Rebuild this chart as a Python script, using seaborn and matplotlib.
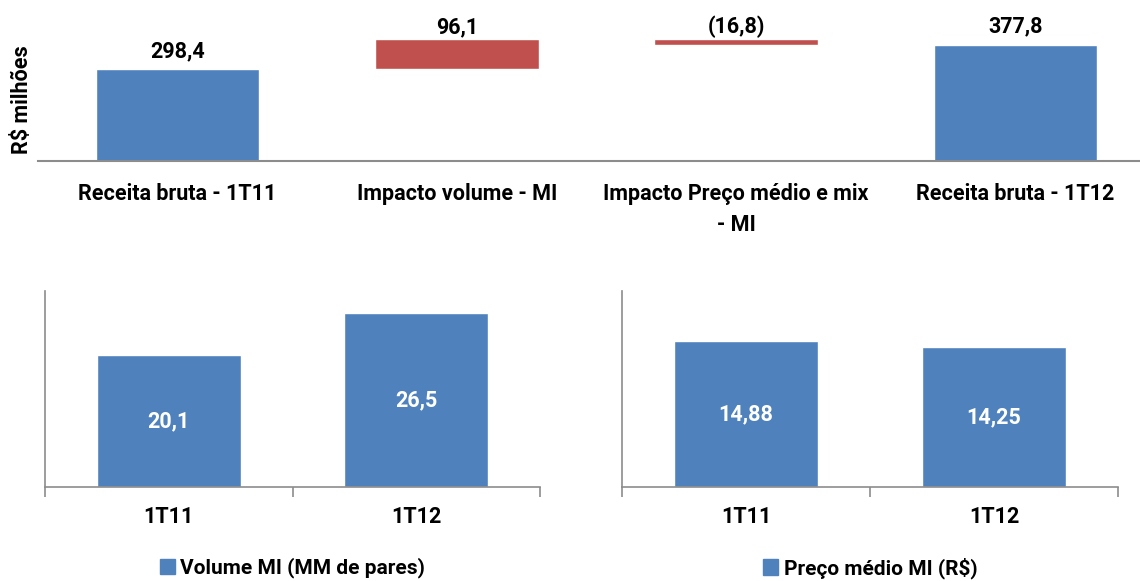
import matplotlib
matplotlib.use("Agg")
import pandas as pd
import seaborn as sns
import matplotlib.pyplot as plt
from matplotlib.patches import Patch

# bridge chart (R$ milhões)
bridge_labels = ["Receita bruta - 1T11", "Impacto volume - MI",
                 "Impacto Preço médio e mix\n- MI", "Receita bruta - 1T12"]
bridge_values = [298.4, 96.1, -16.8, 377.8]
bridge_text = ["298,4", "96,1", "(16,8)", "377,8"]
bridge_kind = ["total", "delta", "delta", "total"]

# volume and price
periods = ["1T11", "1T12"]
volume_mi = [20.1, 26.5]
volume_text = ["20,1", "26,5"]
preco_mi = [14.88, 14.25]
preco_text = ["14,88", "14,25"]

BLUE = "#4F81BD"
RED = "#C0504D"
GRAY = "#8C8C8C"

sns.set_style("white")
plt.rcParams['font.family'] = ['Roboto', 'DejaVu Sans']
plt.rcParams['text.color'] = 'black'
plt.rcParams['xtick.color'] = 'black'

fig = plt.figure(figsize=(11.4, 5.81), dpi=100)
W, H = 1140, 581
FS = 15.5


def px_axes(x0, y0, x1, y1):
    return fig.add_axes([x0 / W, 1 - y1 / H, (x1 - x0) / W, (y1 - y0) / H])


# ---- top waterfall ----
ax = px_axes(38, 15, 1140, 161)
bottoms, heights, colors = [], [], []
running = 0
for v, k in zip(bridge_values, bridge_kind):
    if k == "total":
        bottoms.append(0)
        heights.append(v)
        running = v
        colors.append(BLUE)
    else:
        bottoms.append(running + min(v, 0))
        heights.append(abs(v))
        running += v
        colors.append(RED)
x = range(len(bridge_values))
ax.bar(x, heights, bottom=bottoms, width=0.585, color=colors)
for i, (b, h, t, k) in enumerate(zip(bottoms, heights, bridge_text, bridge_kind)):
    off = 5 if k == "total" else 1
    ax.annotate(t, (i, b + h), xytext=(0, off), textcoords="offset points",
                ha="center", va="bottom", fontsize=FS, fontweight="bold")
ax.set_xlim(-0.5, 3.5 - 15 / 279)
ax.set_ylim(0, 474)
ax.set_xticks(list(x))
ax.set_xticklabels(bridge_labels, fontsize=FS, fontweight="bold",
                   linespacing=1.5)
ax.tick_params(axis="x", length=0, pad=16)
ax.set_yticks([])
for s in ["top", "right", "left"]:
    ax.spines[s].set_visible(False)
ax.spines["bottom"].set_color(GRAY)
ax.spines["bottom"].set_linewidth(1.5)
fig.text(22 / W, 1 - 100 / H, "R$ milhões", rotation=90, ha="center", va="center",
         fontsize=15.5, fontweight="bold")


def small_chart(box, vals, texts, ymax, legend_label):
    a = px_axes(*box)
    df = pd.DataFrame({"periodo": periods, "valor": vals})
    sns.barplot(data=df, x="periodo", y="valor", color=BLUE, saturation=1,
                width=0.58, ax=a)
    for i, (v, t) in enumerate(zip(vals, texts)):
        a.text(i, v / 2, t, ha="center", va="center", color="white",
               fontsize=FS, fontweight="bold")
    a.set_xlim(-0.5, 1.5)
    a.set_ylim(0, ymax)
    a.set_xlabel("")
    a.set_ylabel("")
    a.set_yticks([])
    a.set_xticks([-0.5, 0.5, 1.5], minor=True)
    a.tick_params(axis="x", which="major", length=0, pad=14,
                  labelsize=FS, bottom=True)
    a.tick_params(axis="x", which="minor", length=7, color=GRAY, width=1.2,
                  direction="out", bottom=True)
    for lbl in a.get_xticklabels():
        lbl.set_fontweight("bold")
    for s in ["top", "right"]:
        a.spines[s].set_visible(False)
    for s in ["left", "bottom"]:
        a.spines[s].set_color(GRAY)
        a.spines[s].set_linewidth(1.2)
    a.legend(handles=[Patch(color=BLUE, label=legend_label)], loc="center",
             bbox_to_anchor=(0.5, (487 - 568) / 196), frameon=False,
             handlelength=0.75, handleheight=0.75, handletextpad=0.25,
             borderpad=0.2, prop={"size": 15, "weight": "bold"})
    return a


small_chart((45, 291, 540, 487), volume_mi, volume_text, 29.8,
            "Volume MI (MM de pares)")
small_chart((622, 291, 1118, 487), preco_mi, preco_text, 20,
            "Preço médio MI (R$)")

fig.savefig("out.png", dpi=100)
